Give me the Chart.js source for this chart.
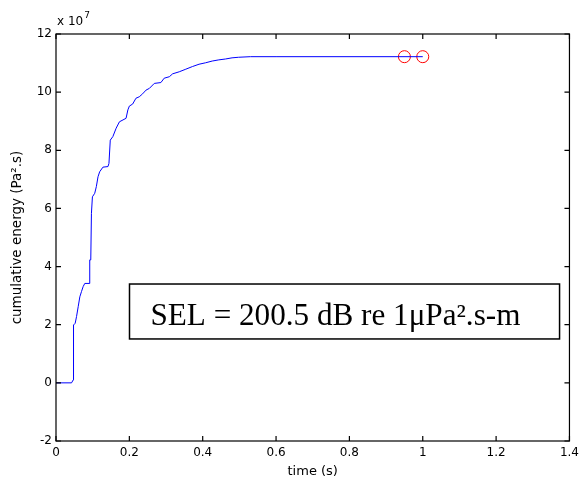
<!DOCTYPE html>
<html><head><meta charset="utf-8">
<script src="https://cdn.jsdelivr.net/npm/chart.js@4"></script>
<style>html,body{margin:0;padding:0;background:#fff}#wrap{width:584px;height:486px}</style>
</head><body><div id="wrap"><canvas id="c" width="584" height="486"></canvas></div>
<script>
// time (s)
const times = [0, 0.0424, 0.0469, 0.0478, 0.0523, 0.056, 0.0605, 0.065, 0.0695, 0.074, 0.0785, 0.090, 0.092, 0.0948, 0.0966, 0.0993, 0.1056, 0.110, 0.1146, 0.119, 0.128, 0.1417, 0.1444, 0.148, 0.155, 0.164, 0.173, 0.191, 0.196, 0.200, 0.209, 0.218, 0.227, 0.236, 0.2455, 0.2546, 0.268, 0.286, 0.295, 0.309, 0.318, 0.336, 0.354, 0.372, 0.390, 0.408, 0.426, 0.444, 0.462, 0.480, 0.498, 0.53, 0.60, 1.0];
// cumulative energy (x 10^7 Pa^2.s)
const energy = [0, 0, 0.10, 1.99, 2.05, 2.28, 2.62, 2.96, 3.14, 3.31, 3.42, 3.42, 4.23, 4.23, 5.83, 6.40, 6.52, 6.75, 7.09, 7.26, 7.42, 7.44, 7.55, 8.35, 8.47, 8.76, 8.98, 9.10, 9.39, 9.52, 9.59, 9.79, 9.84, 9.94, 10.07, 10.13, 10.30, 10.33, 10.48, 10.53, 10.63, 10.70, 10.79, 10.88, 10.96, 11.01, 11.07, 11.11, 11.14, 11.18, 11.20, 11.22, 11.22, 11.22];
const markerTimes = [0.95, 1.0];
const markerEnergy = [11.22, 11.22];
const xTicks = [0, 0.2, 0.4, 0.6, 0.8, 1, 1.2, 1.4];
const yTicks = [-2, 0, 2, 4, 6, 8, 10, 12];
const exponentLabel = '7';
const annotationText = 'SEL = 200.5 dB re 1\u03bcPa\u00b2.s-m';
// annotation box corners in data units [t0, t1, e0, e1]
const annotationBox = [0.2004, 1.373, 1.51, 3.40];
const xTitle = 'time (s)';
const yTitle = 'cumulative energy (Pa\u00b2.s)';

const SANS = '"DejaVu Sans", "Liberation Sans", Arial, sans-serif';

const frame = {
  id: 'frame',
  afterDatasetsDraw(chart) {
    const {ctx, chartArea: a, scales: {x, y}} = chart;
    ctx.save();
    ctx.strokeStyle = '#000';
    ctx.lineWidth = 1.2;
    ctx.strokeRect(a.left, a.top, a.right - a.left, a.bottom - a.top);
    const L = 5;
    ctx.beginPath();
    xTicks.forEach(v => {
      const px = x.getPixelForValue(v);
      ctx.moveTo(px, a.bottom); ctx.lineTo(px, a.bottom - L);
      ctx.moveTo(px, a.top); ctx.lineTo(px, a.top + L);
    });
    yTicks.forEach(v => {
      const py = y.getPixelForValue(v);
      ctx.moveTo(a.left, py); ctx.lineTo(a.left + L, py);
      ctx.moveTo(a.right, py); ctx.lineTo(a.right - L, py);
    });
    ctx.stroke();

    // exponent label
    ctx.fillStyle = '#000';
    ctx.font = '12px ' + SANS;
    ctx.textBaseline = 'alphabetic';
    ctx.textAlign = 'left';
    const base = 'x 10';
    ctx.fillText(base, a.left + 1, a.top - 9);
    const w = ctx.measureText(base).width;
    ctx.font = '9px ' + SANS;
    ctx.fillText(exponentLabel, a.left + 1 + w + 1, a.top - 16);

    // annotation box
    const bx0 = x.getPixelForValue(annotationBox[0]);
    const bx1 = x.getPixelForValue(annotationBox[1]);
    const by0 = y.getPixelForValue(annotationBox[3]);
    const by1 = y.getPixelForValue(annotationBox[2]);
    ctx.fillStyle = '#fff';
    ctx.fillRect(bx0, by0, bx1 - bx0, by1 - by0);
    ctx.lineWidth = 1.5;
    ctx.strokeRect(bx0, by0, bx1 - bx0, by1 - by0);
    ctx.fillStyle = '#000';
    const serif = '"Liberation Serif", "Times New Roman", serif';
    ctx.font = '24px ' + serif;
    const tw = ctx.measureText(annotationText).width;
    const size = 24 * 370 / tw;
    ctx.font = size.toFixed(2) + 'px ' + serif;
    ctx.fillText(annotationText, bx0 + 21, by1 - 14);
    ctx.restore();
  }
};

new Chart(document.getElementById('c'), {
  type: 'scatter',
  data: {
    datasets: [
      {
        data: times.map((t, i) => ({x: t, y: energy[i]})),
        showLine: true,
        borderColor: '#0000ff',
        borderWidth: 1,
        pointRadius: 0,
        tension: 0
      },
      {
        data: markerTimes.map((t, i) => ({x: t, y: markerEnergy[i]})),
        showLine: false,
        pointStyle: 'circle',
        pointRadius: 6,
        borderColor: '#ff0000',
        backgroundColor: 'rgba(0,0,0,0)',
        borderWidth: 1
      }
    ]
  },
  options: {
    responsive: false,
    animation: false,
    layout: {padding: {top: 34, right: 11, left: 0, bottom: 0}},
    plugins: {legend: {display: false}, tooltip: {enabled: false}},
    scales: {
      x: {
        type: 'linear', min: 0, max: 1.4,
        afterBuildTicks: s => { s.ticks = xTicks.map(v => ({value: v})); },
        afterFit: s => { s.height = 45; },
        grid: {display: false, drawTicks: false},
        border: {display: false},
        ticks: {color: '#000', font: {family: SANS, size: 12}, padding: 5,
          callback: v => String(+(+v).toFixed(1))},
        title: {display: true, text: xTitle, color: '#000', font: {family: SANS, size: 13}, padding: {top: 1, bottom: 7}}
      },
      y: {
        type: 'linear', min: -2, max: 12,
        afterBuildTicks: s => { s.ticks = yTicks.map(v => ({value: v})); },
        afterFit: s => { s.width = 56; },
        grid: {display: false, drawTicks: false},
        border: {display: false},
        ticks: {color: '#000', font: {family: SANS, size: 12}, padding: 4,
          callback: v => String(v)},
        title: {display: true, text: yTitle, color: '#000', font: {family: SANS, size: 13.5}, padding: {top: 9, bottom: 0}}
      }
    }
  },
  plugins: [frame]
});
</script>
</body></html>
